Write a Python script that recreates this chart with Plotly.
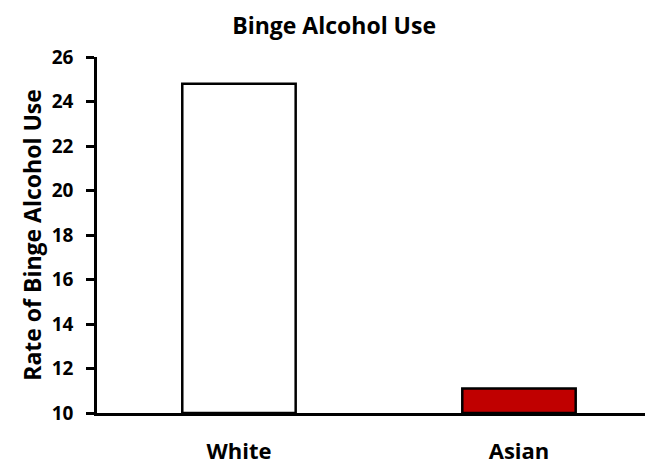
import plotly.graph_objects as go

categories = ["White", "Asian"]
values = [24.8, 11.1]
colors = ["#FFFFFF", "#C00000"]
y_ticks = [10, 12, 14, 16, 18, 20, 22, 24, 26]

FONT = "Open Sans"

fig = go.Figure()
fig.add_trace(go.Bar(
    x=[0, 1],
    y=[v - 10 for v in values],
    base=10,
    width=0.405,
    marker=dict(color=colors, line=dict(color="black", width=2.5)),
    showlegend=False,
))

fig.update_layout(
    width=645, height=469,
    margin=dict(l=97, r=0, t=57, b=56),
    paper_bgcolor="white", plot_bgcolor="white",
    title=dict(text="<b>Binge Alcohol Use</b>", x=0.518, xanchor="center",
               y=1 - 26 / 469, yanchor="middle",
               font=dict(family=FONT, size=23, color="black")),
    xaxis=dict(
        range=[-0.507, 1.45],
        tickvals=[0, 1],
        ticktext=["<b>" + c + "</b>" for c in categories],
        showline=True, linecolor="black", linewidth=2.5,
        ticks="", showgrid=False, zeroline=False,
        tickfont=dict(family=FONT, size=22, color="black"),
        ticklabelstandoff=17,
        automargin=False,
    ),
    yaxis=dict(
        range=[10, 26],
        tickvals=y_ticks,
        ticktext=["<b>%d</b>" % t for t in y_ticks],
        showline=True, linecolor="black", linewidth=2.5,
        ticks="outside", ticklen=8, tickwidth=2.5, tickcolor="black",
        showgrid=False, zeroline=False,
        ticklabelstandoff=9,
        tickfont=dict(family=FONT, size=19, color="black"),
        title=dict(text="<b>Rate of Binge Alcohol Use</b>",
                   font=dict(family=FONT, size=23, color="black"), standoff=4),
        automargin=False,
    ),
)

fig.write_html("out.html")
